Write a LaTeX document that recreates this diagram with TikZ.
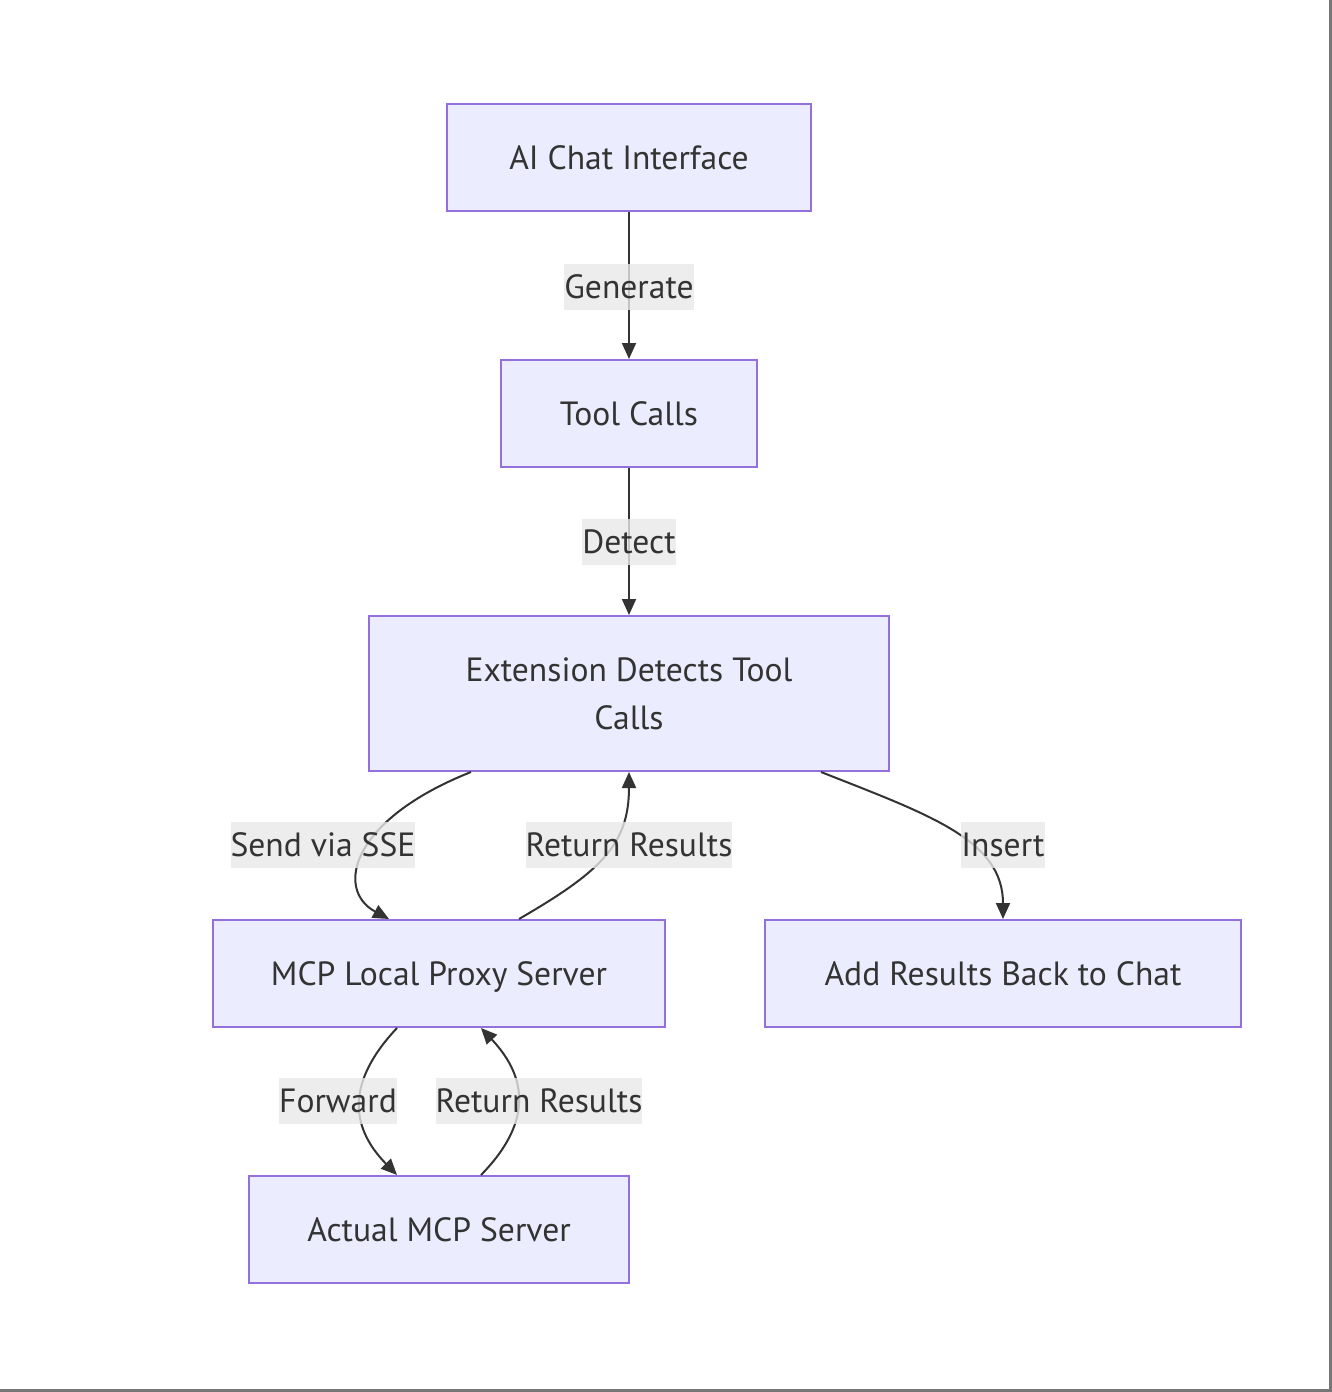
\documentclass[tikz,border=0pt]{standalone}
\usepackage{fontspec}
\setmainfont{PT Sans}
\usetikzlibrary{arrows.meta}
\usetikzlibrary{calc}
\definecolor{boxfill}{HTML}{ECECFF}
\definecolor{boxline}{HTML}{9370DB}
\definecolor{ink}{HTML}{333333}
\definecolor{lblfill}{HTML}{E8E8E8}
\definecolor{frame}{HTML}{777777}
\begin{document}
\begin{tikzpicture}
        [
            x=0.5pt, y=-0.5pt,
            box/.style={draw=boxline, fill=boxfill, line width=1pt, text=ink, inner sep=0pt, minimum height=53.5pt, font=\fontsize{16.8}{24}\selectfont, text height=13.5pt, text depth=2pt},
            lbl/.style={fill=lblfill, fill opacity=0.8, text opacity=1, text=ink, inner xsep=0pt, inner ysep=0pt, minimum height=23pt, font=\fontsize{16.8}{20}\selectfont},
            flow/.style={draw=ink, line width=1pt, -{Triangle[length=8pt,width=7pt]}},
        ]
        \useasboundingbox (0,0) rectangle (1332,1392);
        \draw[frame, line width=1.5pt] (1330.5,0) -- (1330.5,1390.5) -- (0,1390.5);
        \node[box, minimum width=182pt] (chat) at (629,157.5) {AI Chat Interface};
        \node[box, minimum width=128pt] (calls) at (629,413.5) {Tool Calls};
        \node[box, minimum width=260pt, minimum height=77.5pt, text height=, text depth=, align=center] (ext) at (629,693.5) {Extension Detects Tool\\Calls};
        \node[box, minimum width=226pt] (proxy) at (439,973.5) {MCP Local Proxy Server};
        \node[box, minimum width=238pt] (back) at (1003,973.5) {Add Results Back to Chat};
        \node[box, minimum width=190pt] (server) at (439,1229.5) {Actual MCP Server};
        \draw[flow] (chat) -- (calls);
        \draw[flow] (calls) -- (ext);
        \draw[flow] ([xshift=-79pt]ext.south) .. controls (350,820) and (335,890) .. ([xshift=-25pt]proxy.north);
        \draw[flow] ([xshift=40pt]proxy.north) .. controls (600,872) and (629,845) .. (ext.south);
        \draw[flow] ([xshift=96pt]ext.south) .. controls (930,815) and (1003,840) .. (back.north);
        \draw[flow] ([xshift=-21pt]proxy.south) .. controls (348,1080) and (348,1125) .. ([xshift=-21pt]server.north);
        \draw[flow] ([xshift=21pt]server.north) .. controls (530,1125) and (530,1080) .. ([xshift=21pt]proxy.south);
        \node[lbl] (generate) at (629,287) {Generate};
        \node[lbl] (detect) at (629,542) {Detect};
        \node[lbl] (sse) at (323,845) {Send via SSE};
        \node[lbl] (ret1) at (629,845) {Return Results};
        \node[lbl] (insert) at (1003,845) {Insert};
        \node[lbl] (fwd) at (338,1101) {Forward};
        \node[lbl] (ret2) at (539,1101) {Return Results};
\end{tikzpicture}
\end{document}
